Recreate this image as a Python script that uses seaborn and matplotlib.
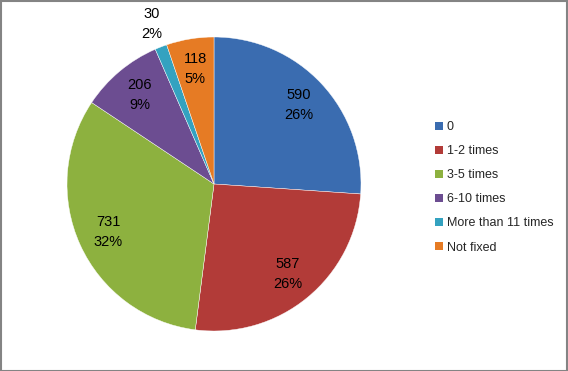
import matplotlib
matplotlib.use("Agg")
import matplotlib.pyplot as plt
import seaborn as sns
import numpy as np
from matplotlib.patches import Rectangle

categories = ["0", "1-2 times", "3-5 times", "6-10 times", "More than 11 times", "Not fixed"]
counts = [590, 587, 731, 206, 30, 118]
pct_labels = ["26%", "26%", "32%", "9%", "2%", "5%"]
colors = ["#3A6CB0", "#B23B38", "#8DB13F", "#6C4D91", "#34A2C0", "#E67B24"]

sns.set_theme(style="white")
plt.rcParams['font.family'] = ['Liberation Sans', 'DejaVu Sans']

fig = plt.figure(figsize=(5.68, 3.71), dpi=100)
ax = fig.add_axes([67/568, 40/371, 294/568, 294/371])

labels_txt = [f"{c}\n{p}" for c, p in zip(counts, pct_labels)]
wedges, texts = ax.pie(counts, colors=colors, startangle=90, counterclock=False,
                       radius=1.0, labels=None,
                       wedgeprops=dict(edgecolor="white", linewidth=0.3))
total = sum(counts)
cum = 0
for i, (v, t) in enumerate(zip(counts, labels_txt)):
    mid = (cum + v / 2) / total
    cum += v
    ang = np.deg2rad(90 - 360 * mid)
    d = 1.17 if v / total < 0.02 else 0.79
    ax.text(d * np.cos(ang), d * np.sin(ang), t, ha="center", va="center",
            fontsize=10.5, color="black", linespacing=1.55)
ax.set_xlim(-1, 1)
ax.set_ylim(-1, 1)
ax.set_aspect("equal")
ax.axis("off")

handles = [Rectangle((0, 0), 1, 1, facecolor=c, edgecolor="none") for c in colors]
fig.legend(handles, categories, loc="upper left", bbox_to_anchor=(430/568, 1 - 116/371),
           frameon=False, fontsize=9, handlelength=0.6, handleheight=0.6,
           handletextpad=0.35, labelspacing=0.97, borderaxespad=0)

fig.patches.append(Rectangle((0.5/568, 0.5/371), 1 - 1.5/568, 1 - 1.5/371,
                             transform=fig.transFigure, fill=False,
                             edgecolor="#848484", linewidth=1.5))

fig.savefig("out.png", dpi=100)
